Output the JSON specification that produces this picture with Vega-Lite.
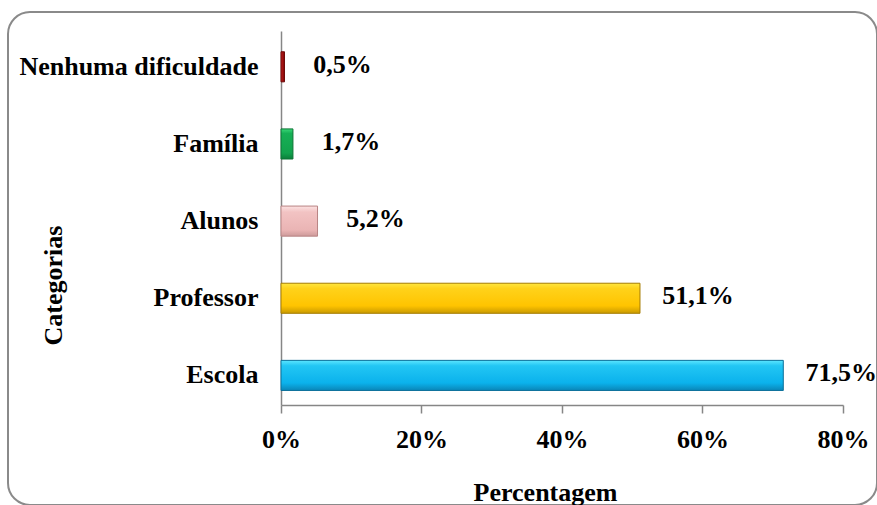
{
  "$schema": "https://vega.github.io/schema/vega-lite/v6.json",
  "width": 869,
  "height": 493,
  "autosize": {"type": "none"},
  "padding": {"left": 8, "top": 12, "right": 0, "bottom": 0},
  "background": "white",
  "config": {
    "view": {"stroke": "#8a8a8a", "strokeWidth": 2, "cornerRadius": 22},
    "font": "Liberation Serif"
  },
  "data": {
    "values": [
      {"categoria": "Nenhuma dificuldade", "percentagem": 0.5, "rotulo": "0,5%"},
      {"categoria": "Família", "percentagem": 1.7, "rotulo": "1,7%"},
      {"categoria": "Alunos", "percentagem": 5.2, "rotulo": "5,2%"},
      {"categoria": "Professor", "percentagem": 51.1, "rotulo": "51,1%"},
      {"categoria": "Escola", "percentagem": 71.5, "rotulo": "71,5%"}
    ]
  },
  "encoding": {
    "y": {
      "field": "categoria",
      "type": "nominal",
      "sort": ["Nenhuma dificuldade", "Família", "Alunos", "Professor", "Escola"],
      "scale": {
        "domain": ["Nenhuma dificuldade", "Família", "Alunos", "Professor", "Escola"],
        "paddingInner": 0.61,
        "paddingOuter": 1.09,
        "align": 0.2577
      },
      "axis": {
        "title": "Categorias",
        "orient": "left",
        "offset": -273,
        "grid": false,
        "domainDash": [0, 19, 374, 2000],
        "domainColor": "#868686",
        "domainWidth": 1.5,
        "ticks": false,
        "tickSize": 0,
        "labelPadding": 23,
        "labelFont": "Liberation Serif",
        "labelFontSize": 26,
        "labelFontWeight": "bold",
        "labelColor": "black",
        "labelLimit": 400,
        "titleFont": "Liberation Serif",
        "titleFontSize": 26,
        "titleFontWeight": "bold",
        "titleColor": "black",
        "titleX": -228,
        "titleY": 273,
        "titleAngle": 270,
        "titleAlign": "center",
        "titleBaseline": "middle"
      }
    },
    "x": {
      "field": "percentagem",
      "type": "quantitative",
      "scale": {"domain": [-38.861, 84.84], "nice": false, "zero": false},
      "axis": {
        "title": "Percentagem",
        "values": [0, 20, 40, 60, 80],
        "labelExpr": "datum.value + '%'",
        "offset": -100,
        "grid": false,
        "domainDash": [0, 273, 562, 2000],
        "domainColor": "#868686",
        "domainWidth": 1.5,
        "tickColor": "#868686",
        "tickSize": 8,
        "tickWidth": 1.5,
        "labelPadding": 13,
        "labelFont": "Liberation Serif",
        "labelFontSize": 26,
        "labelFontWeight": "bold",
        "labelColor": "black",
        "labelFlush": false,
        "labelOverlap": false,
        "titleFont": "Liberation Serif",
        "titleFontSize": 26,
        "titleFontWeight": "bold",
        "titleColor": "black",
        "titleX": 537,
        "titleY": 87,
        "titleAlign": "center",
        "titleBaseline": "middle"
      }
    }
  },
  "layer": [
    {
      "transform": [{"filter": "datum.categoria == 'Nenhuma dificuldade'"}],
      "mark": {
        "type": "bar",
        "strokeWidth": 1,
        "stroke": "#6E0A0A",
        "color": {
          "gradient": "linear", "x1": 0, "y1": 0, "x2": 1, "y2": 0,
          "stops": [
            {"offset": 0, "color": "#C42020"},
            {"offset": 0.5, "color": "#A01010"},
            {"offset": 1, "color": "#7A0808"}
          ]
        }
      },
      "encoding": {"x2": {"datum": 0}}
    },
    {
      "transform": [{"filter": "datum.categoria == 'Família'"}],
      "mark": {
        "type": "bar",
        "strokeWidth": 1,
        "stroke": "#0E7436",
        "color": {
          "gradient": "linear", "x1": 0, "y1": 0, "x2": 0, "y2": 1,
          "stops": [
            {"offset": 0, "color": "#3AD878"},
            {"offset": 0.15, "color": "#16B055"},
            {"offset": 0.8, "color": "#12A24D"},
            {"offset": 1, "color": "#0B7E3A"}
          ]
        }
      },
      "encoding": {"x2": {"datum": 0}}
    },
    {
      "transform": [{"filter": "datum.categoria == 'Alunos'"}],
      "mark": {
        "type": "bar",
        "strokeWidth": 1,
        "stroke": "#B88484",
        "color": {
          "gradient": "linear", "x1": 0, "y1": 0, "x2": 0, "y2": 1,
          "stops": [
            {"offset": 0, "color": "#FCE2E2"},
            {"offset": 0.2, "color": "#F2C3C3"},
            {"offset": 0.8, "color": "#EAB4B4"},
            {"offset": 1, "color": "#CD9A9A"}
          ]
        }
      },
      "encoding": {"x2": {"datum": 0}}
    },
    {
      "transform": [{"filter": "datum.categoria == 'Professor'"}],
      "mark": {
        "type": "bar",
        "strokeWidth": 1,
        "stroke": "#A67C00",
        "color": {
          "gradient": "linear", "x1": 0, "y1": 0, "x2": 0, "y2": 1,
          "stops": [
            {"offset": 0, "color": "#FFE640"},
            {"offset": 0.18, "color": "#FFD21A"},
            {"offset": 0.75, "color": "#FFC400"},
            {"offset": 1, "color": "#C99A00"}
          ]
        }
      },
      "encoding": {"x2": {"datum": 0}}
    },
    {
      "transform": [{"filter": "datum.categoria == 'Escola'"}],
      "mark": {
        "type": "bar",
        "strokeWidth": 1,
        "stroke": "#0A6F9A",
        "color": {
          "gradient": "linear", "x1": 0, "y1": 0, "x2": 0, "y2": 1,
          "stops": [
            {"offset": 0, "color": "#5CE6FF"},
            {"offset": 0.18, "color": "#22C6F4"},
            {"offset": 0.75, "color": "#0BB2EC"},
            {"offset": 1, "color": "#0A86B8"}
          ]
        }
      },
      "encoding": {"x2": {"datum": 0}}
    },
    {
      "mark": {
        "type": "text",
        "align": "center",
        "baseline": "middle",
        "dx": 58,
        "dy": -2,
        "font": "Liberation Serif",
        "fontSize": 26,
        "fontWeight": "bold",
        "color": "black"
      },
      "encoding": {"text": {"field": "rotulo"}}
    }
  ]
}
